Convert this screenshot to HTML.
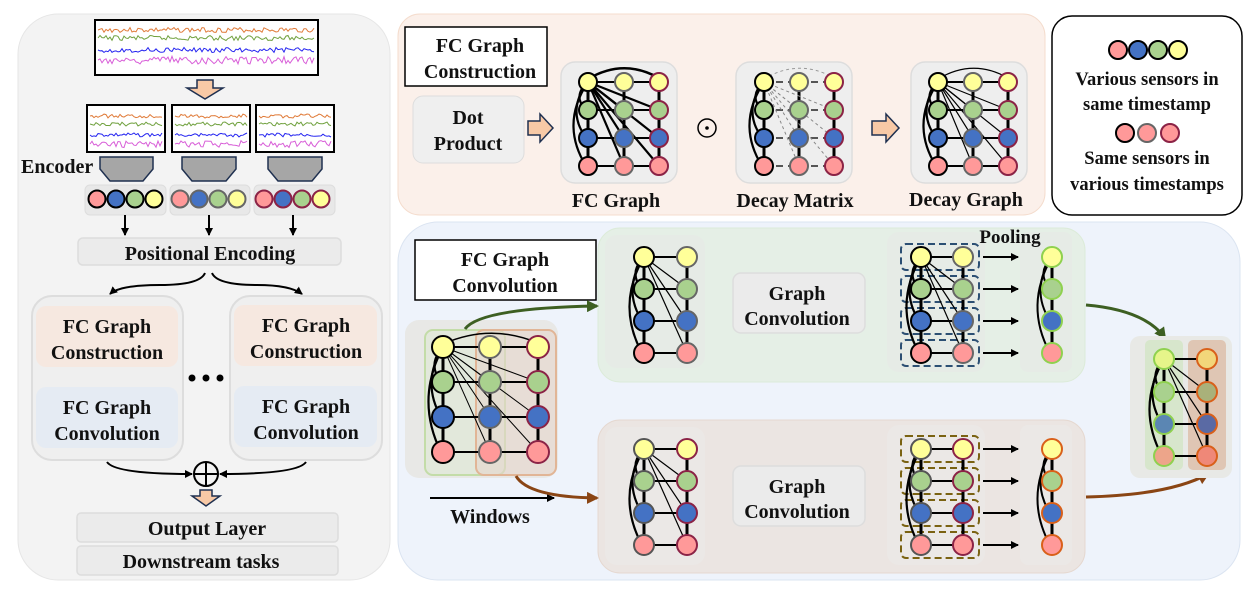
<!DOCTYPE html>
<html><head><meta charset="utf-8"><style>
body{margin:0;background:#fff}
svg{display:block}
text{font-family:"Liberation Serif",serif;font-weight:bold;fill:#111}
</style></head><body>
<svg id="s" width="1258" height="595" viewBox="0 0 1258 595" xmlns="http://www.w3.org/2000/svg">
<defs>
<marker id="ah" markerWidth="8" markerHeight="8" refX="7" refY="4" orient="auto" markerUnits="userSpaceOnUse"><path d="M0,0 L8,4 L0,8 z" fill="#000"/></marker>
<marker id="ahg" markerWidth="12" markerHeight="12" refX="10" refY="6" orient="auto" markerUnits="userSpaceOnUse"><path d="M0,0 L12,6 L0,12 z" fill="#3d5f22"/></marker>
<marker id="ahb" markerWidth="12" markerHeight="12" refX="10" refY="6" orient="auto" markerUnits="userSpaceOnUse"><path d="M0,0 L12,6 L0,12 z" fill="#8a4514"/></marker>
</defs>
<!-- left panel -->
<rect x="18" y="14" width="372" height="566" rx="40" fill="#f3f3f3" stroke="#e6e6e6"/>
<rect x="95" y="20" width="223" height="55" fill="#fff" stroke="#000" stroke-width="2"/>
<path d="M197,80 h16 v8 h10 l-18,11 l-18,-11 h10 z" fill="#f8c9a6" stroke="#1f3050" stroke-width="1.5"/>
<rect x="87" y="105" width="78" height="47" fill="#fff" stroke="#000" stroke-width="2"/>
<rect x="172" y="105" width="78" height="47" fill="#fff" stroke="#000" stroke-width="2"/>
<rect x="256" y="105" width="78" height="47" fill="#fff" stroke="#000" stroke-width="2"/>
<path d="M100,157 h53 v12 l-10,12 h-33 l-10,-12 z" fill="#a6a6a6" stroke="#1f3050" stroke-width="1.5"/>
<path d="M182,157 h54 v12 l-10,12 h-34 l-10,-12 z" fill="#a6a6a6" stroke="#1f3050" stroke-width="1.5"/>
<path d="M268,157 h54 v12 l-10,12 h-34 l-10,-12 z" fill="#a6a6a6" stroke="#1f3050" stroke-width="1.5"/>
<text x="21" y="173" font-size="20">Encoder</text>
<rect x="85" y="185" width="81" height="30" rx="5" fill="#e8e8e8" stroke="#ddd"/>
<rect x="170" y="185" width="80" height="30" rx="5" fill="#e8e8e8" stroke="#ddd"/>
<rect x="254" y="185" width="81" height="30" rx="5" fill="#e8e8e8" stroke="#ddd"/>
<line x1="125" y1="215" x2="125" y2="235" stroke="#000" stroke-width="2" marker-end="url(#ah)"/>
<line x1="209" y1="215" x2="209" y2="235" stroke="#000" stroke-width="2" marker-end="url(#ah)"/>
<line x1="293" y1="215" x2="293" y2="235" stroke="#000" stroke-width="2" marker-end="url(#ah)"/>
<rect x="78" y="238" width="263" height="27" rx="5" fill="#ebebeb" stroke="#ddd" stroke-width="1.5"/>
<text x="210" y="260" font-size="20" text-anchor="middle">Positional Encoding</text>
<path d="M205,273 Q200,285 160,285 Q120,285 110,294" fill="none" stroke="#000" stroke-width="2" marker-end="url(#ah)"/>
<path d="M212,273 Q217,285 257,285 Q290,285 302,294" fill="none" stroke="#000" stroke-width="2" marker-end="url(#ah)"/>
<rect x="32" y="296" width="151" height="164" rx="20" fill="#efefef" stroke="#ddd" stroke-width="2"/>
<rect x="36" y="306" width="142" height="61" rx="10" fill="#f6e8e0"/>
<rect x="36" y="387" width="142" height="61" rx="10" fill="#e5ebf3"/>
<rect x="230" y="296" width="152" height="164" rx="20" fill="#efefef" stroke="#ddd" stroke-width="2"/>
<rect x="234" y="305" width="143" height="61" rx="10" fill="#f6e8e0"/>
<rect x="234" y="386" width="143" height="61" rx="10" fill="#e5ebf3"/>
<g font-size="20" text-anchor="middle">
<text x="107" y="333">FC Graph</text><text x="107" y="359">Construction</text>
<text x="107" y="414">FC Graph</text><text x="107" y="440">Convolution</text>
<text x="306" y="332">FC Graph</text><text x="306" y="358">Construction</text>
<text x="306" y="413">FC Graph</text><text x="306" y="439">Convolution</text>
</g>
<circle cx="192" cy="378" r="3.5" fill="#000"/><circle cx="206" cy="378" r="3.5" fill="#000"/><circle cx="220" cy="378" r="3.5" fill="#000"/>
<path d="M107,462 Q115,474 192,474" fill="none" stroke="#000" stroke-width="2" marker-end="url(#ah)"/>
<path d="M306,462 Q298,474 220,474" fill="none" stroke="#000" stroke-width="2" marker-end="url(#ah)"/>
<circle cx="206" cy="474" r="12" fill="none" stroke="#000" stroke-width="2"/>
<path d="M194,474 h24 M206,462 v24" stroke="#000" stroke-width="2"/>
<path d="M200,490 h12 v6 h8 l-14,10 l-14,-10 h8 z" fill="#f8c9a6" stroke="#1f3050" stroke-width="1.5"/>
<rect x="77" y="513" width="261" height="29" rx="4" fill="#ebebeb" stroke="#ddd" stroke-width="1.5"/>
<rect x="77" y="546" width="261" height="29" rx="4" fill="#ebebeb" stroke="#ddd" stroke-width="1.5"/>
<text x="207" y="535" font-size="20" text-anchor="middle">Output Layer</text>
<text x="201" y="568" font-size="20" text-anchor="middle">Downstream tasks</text>

<!-- top middle panel -->
<rect x="398" y="14" width="647" height="201" rx="22" fill="#fbf0ea" stroke="#f4dccd"/>
<rect x="405" y="27" width="142" height="59" fill="#fff" stroke="#000" stroke-width="1.5"/>
<text x="480" y="52" font-size="20" text-anchor="middle">FC Graph</text>
<text x="480" y="78" font-size="20" text-anchor="middle">Construction</text>
<rect x="413" y="96" width="111" height="67" rx="10" fill="#efefef" stroke="#ddd"/>
<text x="468" y="124" font-size="20" text-anchor="middle">Dot</text>
<text x="468" y="150" font-size="20" text-anchor="middle">Product</text>
<path d="M528,121 h12 v-7 l13,14 l-13,14 v-7 h-12 z" fill="#f8c9a6" stroke="#1f3050" stroke-width="1.5"/>
<path d="M872,121 h14 v-7 l13,14 l-13,14 v-7 h-14 z" fill="#f8c9a6" stroke="#1f3050" stroke-width="1.5"/>
<rect x="561" y="62" width="116" height="121" rx="14" fill="#eeeeee" stroke="#ddd" stroke-width="1.5"/>
<rect x="736" y="62" width="116" height="121" rx="14" fill="#eeeeee" stroke="#ddd" stroke-width="1.5"/>
<rect x="911" y="62" width="116" height="121" rx="14" fill="#eeeeee" stroke="#ddd" stroke-width="1.5"/>
<circle cx="707" cy="128" r="9" fill="none" stroke="#000" stroke-width="1.5"/><circle cx="707" cy="128" r="1.8" fill="#000"/>
<text x="616" y="207" font-size="20" text-anchor="middle">FC Graph</text>
<text x="795" y="207" font-size="20" text-anchor="middle">Decay Matrix</text>
<text x="966" y="206" font-size="20" text-anchor="middle">Decay Graph</text>

<!-- legend -->
<rect x="1052" y="16" width="190" height="199" rx="20" fill="#fff" stroke="#000" stroke-width="1.5"/>
<text x="1147" y="85" font-size="18.5" text-anchor="middle">Various sensors in</text>
<text x="1147" y="110" font-size="18.5" text-anchor="middle">same timestamp</text>
<text x="1147" y="164" font-size="18.5" text-anchor="middle">Same sensors in</text>
<text x="1147" y="190" font-size="18.5" text-anchor="middle">various timestamps</text>

<!-- bottom right panel -->
<rect x="398" y="222" width="842" height="358" rx="40" fill="#eef3fb" stroke="#dbe4f1"/>
<rect x="598" y="228" width="487" height="154" rx="22" fill="#e5efe6" stroke="#dcebd9"/>
<rect x="598" y="420" width="487" height="153" rx="22" fill="#ebe5e2" stroke="#e5d8d0"/>
<rect x="605" y="235" width="100" height="133" rx="12" fill="#e6ebe6"/>
<rect x="605" y="427" width="100" height="138" rx="12" fill="#ebe8e6"/>
<rect x="887" y="232" width="98" height="140" rx="12" fill="#e6ebe6"/>
<rect x="887" y="425" width="98" height="140" rx="12" fill="#ebe8e6"/>
<rect x="1020" y="232" width="52" height="140" rx="8" fill="#e6ebe6"/>
<rect x="1020" y="425" width="52" height="140" rx="8" fill="#ebe8e6"/>
<rect x="733" y="273" width="132" height="60" rx="8" fill="#ebebeb" stroke="#ddd" stroke-width="1.5"/>
<rect x="733" y="466" width="132" height="60" rx="8" fill="#ebebeb" stroke="#ddd" stroke-width="1.5"/>
<text x="797" y="300" font-size="20" text-anchor="middle">Graph</text>
<text x="797" y="325" font-size="20" text-anchor="middle">Convolution</text>
<text x="797" y="493" font-size="20" text-anchor="middle">Graph</text>
<text x="797" y="518" font-size="20" text-anchor="middle">Convolution</text>
<text x="1010" y="243" font-size="19" text-anchor="middle">Pooling</text>
<rect x="415" y="240" width="181" height="60" fill="#fff" stroke="#000" stroke-width="1.5"/>
<text x="505" y="266" font-size="20" text-anchor="middle">FC Graph</text>
<text x="505" y="292" font-size="20" text-anchor="middle">Convolution</text>
<rect x="405" y="320" width="153" height="158" rx="14" fill="#e8e8e6"/>
<rect x="425" y="330" width="80" height="145" rx="8" fill="#dfe8d6" fill-opacity="0.7" stroke="#c3dca8" stroke-width="2"/>
<rect x="476" y="330" width="80" height="145" rx="8" fill="#e6d6cb" fill-opacity="0.6" stroke="#e1b596" stroke-width="2"/>
<line x1="430" y1="498" x2="554" y2="498" stroke="#000" stroke-width="2" marker-end="url(#ah)"/>
<text x="490" y="523" font-size="20" text-anchor="middle">Windows</text>
<path d="M465,329 Q480,308 597,306" fill="none" stroke="#3d5f22" stroke-width="3" marker-end="url(#ahg)"/>
<path d="M516,476 Q528,497 597,498" fill="none" stroke="#8a4514" stroke-width="3" marker-end="url(#ahb)"/>
<path d="M1086,305 Q1145,310 1165,338" fill="none" stroke="#3d5f22" stroke-width="3" marker-end="url(#ahg)"/>
<path d="M1086,497 Q1170,495 1208,474" fill="none" stroke="#8a4514" stroke-width="3" marker-end="url(#ahb)"/>
<rect x="1130" y="336" width="102" height="142" rx="10" fill="#e8e9e6"/>
<rect x="1145" y="340" width="38" height="130" rx="5" fill="#d7e6cc"/>
<rect x="1188" y="340" width="38" height="130" rx="5" fill="#dfc6b4"/>
<g id="dyn"></g>
</svg>
<script>
var NS="http://www.w3.org/2000/svg",G=document.getElementById("dyn");
function el(t,a){var e=document.createElementNS(NS,t);for(var k in a)e.setAttribute(k,a[k]);G.appendChild(e);return e}
function ln(x1,y1,x2,y2,w,c,d,m){var a={x1:x1,y1:y1,x2:x2,y2:y2,stroke:c||"#000","stroke-width":w||1.5};if(d)a["stroke-dasharray"]=d;if(m)a["marker-end"]=m;el("line",a)}
function pth(d,w,c,da){var a={d:d,fill:"none",stroke:c||"#000","stroke-width":w||2};if(da)a["stroke-dasharray"]=da;el("path",a)}
function nd(x,y,r,f,s,w){el("circle",{cx:x,cy:y,r:r,fill:f,stroke:s,"stroke-width":w||2})}
var F=["#ffff99","#a9d18e","#4472c4","#ff9999"],SK=["#000","#666","#8b2346"];
function sig(x0,x1,y,amp,col,seed){var d="M"+x0+","+y,s=seed;for(var x=x0+2;x<=x1;x+=2){s=(s*9301+49297)%233280;d+=" L"+x+","+(y+(s/233280-0.5)*amp*2).toFixed(1)}pth(d,1,col)}
var cols=["#e07b39","#70a13e","#2424f0","#d85ed8"];
cols.forEach(function(c,i){sig(98,315,[30,38,50,60][i],i==3?4:2.5,c,i*17+3)});
[87,172,256].forEach(function(bx,j){cols.forEach(function(c,i){sig(bx+3,bx+75,105+[11,19,30,39][i],i==3?3.5:2,c,i*31+j*7+5)})});
[[97,116,135,154],[180,199,218,237],[264,283,302,321]].forEach(function(xs,j){var order=[3,2,1,0];xs.forEach(function(x,i){nd(x,199,8.5,F[order[i]],SK[j],2)})});
function grid(xs,ys,r,strokes,opt){
 opt=opt||{};var x0=xs[0],y0=ys[0];
 for(var k=1;k<ys.length;k++){pth("M"+x0+","+y0+" Q"+(x0-10-6*k)+","+((y0+ys[k])/2)+" "+(x0-2)+","+ys[k],opt.aw||2.2)}
 if(opt.top&&xs.length>2)pth("M"+x0+","+(y0-3)+" Q"+((x0+xs[xs.length-1])/2)+","+(y0-24)+" "+xs[xs.length-1]+","+(y0-4),opt.topw||2,opt.topc||"#000",opt.topd);
 xs.forEach(function(x,c){ln(x,ys[0],x,ys[ys.length-1],3)});
 ys.forEach(function(y,rw){for(var c=0;c<xs.length-1;c++)ln(xs[c],y,xs[c+1],y,2,opt.hc||"#000",opt.hd)});
 if(opt.fan!==false){for(var c=1;c<xs.length;c++)for(var rw=1;rw<ys.length;rw++)ln(x0,y0,xs[c],ys[rw],opt.fw||1.2,opt.fc||"#000",opt.fd)}
 xs.forEach(function(x,c){ys.forEach(function(y,rw){nd(x,y,r,(opt.fills&&opt.fills[c])?opt.fills[c][rw]:F[rw],strokes[c],opt.sw||2)})});
}
grid([588,624,659],[82,110,138,166],9,SK,{top:true,fw:2.2,topw:2.5});
grid([764,799,834],[82,110,138,166],9,SK,{top:true,topw:1,topc:"#999",topd:"3,3",hd:"7,5",hc:"#555",fw:1,fc:"#888",fd:"3,3"});
grid([938,973,1008],[82,110,138,166],9,SK,{top:true,topw:1.2,fw:1.2});
grid([443,490,538],[347,382,417,452],11,SK,{top:true,topw:1.5,fw:1});
grid([644,687],[257,289,321,353],10,["#000","#666"],{fw:1.2});
grid([644,687],[449,481,513,545],10,["#555","#8b2346"],{fw:1.2});
function pool(ys,dc,sk,top){ys.forEach(function(y){el("rect",{x:901,y:y-13,width:78,height:26,rx:5,fill:"none",stroke:dc,"stroke-width":2,"stroke-dasharray":"7,4"})});
 grid([921,963],ys,10,sk,{fan:top,fw:1.2,aw:top?2.2:0});
 ys.forEach(function(y){ln(983,y,1018,y,2,"#000",null,"url(#ah)")});}
pool([257,289,321,353],"#2c4f73",["#000","#666"],true);
pool([449,481,513,545],"#7a6212",["#555","#8b2346"],false);
function pc(ys,s,fills){grid([1052],ys,10,[s],{fan:false,aw:2,fills:fills?[fills]:null});}
pc([257,289,321,353],"#8fd14f");
pc([449,481,513,545],"#d9601a");
grid([1164,1207],[359,392,424,456],10,["#8fd14f","#d9601a"],{fw:1.2,fills:[["#e6f58a","#a9d18e","#5b86b3","#eda58a"],["#f2d67a","#a9b17a","#5a6aa4","#ef8878"]]});
[1118,1138,1158,1178].forEach(function(x,i){nd(x,50,9,["#ff9999","#4472c4","#a9d18e","#ffff99"][i],"#000",2)});
[[1125,"#000"],[1147,"#666"],[1170,"#8b2346"]].forEach(function(p){nd(p[0],133,9,"#ff9999",p[1],2)});
</script>
</body></html>
